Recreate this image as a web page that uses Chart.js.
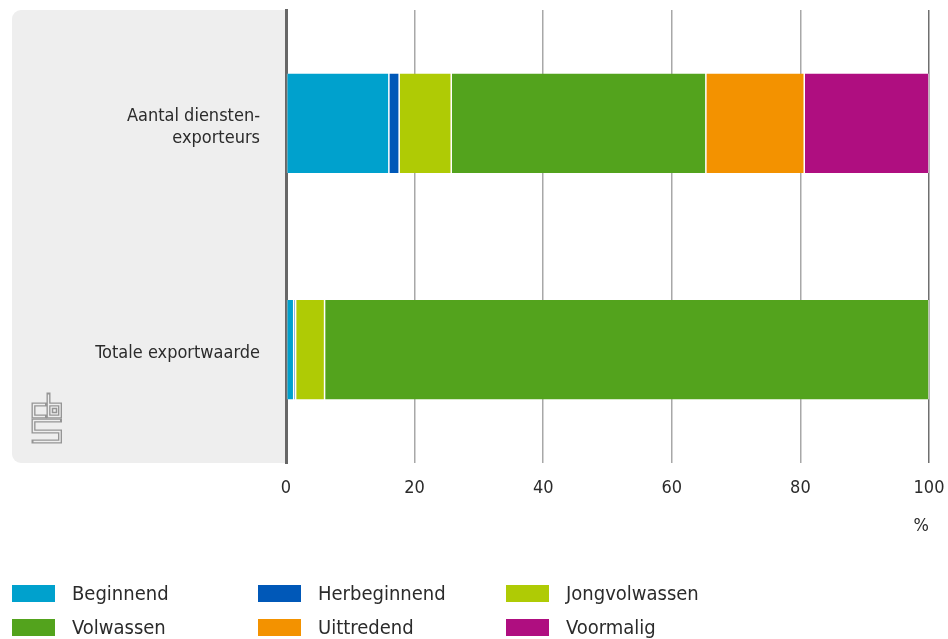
<!DOCTYPE html>
<html>
<head>
<meta charset="utf-8">
<title>Dienstenexporteurs naar fase</title>
<script src="https://cdn.jsdelivr.net/npm/chart.js@4.4.0/dist/chart.umd.min.js"></script>
<style>
  html, body { margin: 0; padding: 0; background: #fff; }
  #wrap { position: relative; width: 948px; height: 639px; }
</style>
</head>
<body>
<div id="wrap"><canvas id="exportChart" width="948" height="639"></canvas></div>
<script>
// categories (y axis) and x-axis ticks
const categories = [['Aantal diensten-', 'exporteurs'], 'Totale exportwaarde'];
const xTicks = [0, 20, 40, 60, 80, 100];

// share per phase, in %
const beginnend     = [16.0, 1.2];
const herbeginnend  = [1.6, 0.3];
const jongvolwassen = [8.1, 4.5];
const volwassen     = [39.6, 94.0];
const uittredend    = [15.3, 0];
const voormalig     = [19.4, 0];

const seriesNames  = ['Beginnend', 'Herbeginnend', 'Jongvolwassen', 'Volwassen', 'Uittredend', 'Voormalig'];
const seriesValues = [beginnend, herbeginnend, jongvolwassen, volwassen, uittredend, voormalig];
const seriesColors = ['#00a1cd', '#0058b8', '#afcb05', '#53a31d', '#f39200', '#af0e80'];

const FONT = "'DejaVu Sans Condensed', 'DejaVu Sans', sans-serif";
const TEXT = '#2b2b2b';

// no extra room around the scales, the plot area is fixed
const noPadding = s => { s.paddingTop = 0; s.paddingBottom = 0; s.paddingLeft = 0; s.paddingRight = 0; };

// grey panel behind the category labels + the cbs logo
const panelPlugin = {
  id: 'panel',
  beforeDraw(chart) {
    const { ctx, chartArea } = chart;
    const x = 12, y = chartArea.top, w = chartArea.left - x, h = chartArea.bottom - y, r = 9;
    ctx.save();
    ctx.fillStyle = '#eeeeee';
    ctx.beginPath();
    ctx.moveTo(x + w, y);
    ctx.lineTo(x + r, y);
    ctx.arcTo(x, y, x, y + r, r);
    ctx.lineTo(x, y + h - r);
    ctx.arcTo(x, y + h, x + r, y + h, r);
    ctx.lineTo(x + w, y + h);
    ctx.closePath();
    ctx.fill();

    // logo: c, b and S drawn as outlined strokes
    const paths = [
      [[45, 404.5], [33.5, 404.5], [33.5, 416.5], [45, 416.5]],
      [[48.5, 394.5], [48.5, 416.5], [60, 416.5], [60, 404.5], [48.5, 404.5]],
      [[60, 420.5], [33.5, 420.5], [33.5, 431.5], [60, 431.5], [60, 441.5], [33.5, 441.5]]
    ];
    const trace = () => {
      paths.forEach(p => {
        ctx.beginPath();
        ctx.moveTo(p[0][0], p[0][1]);
        p.slice(1).forEach(pt => ctx.lineTo(pt[0], pt[1]));
        ctx.stroke();
      });
    };
    ctx.lineJoin = 'miter';
    ctx.lineCap = 'square';
    ctx.strokeStyle = '#959595';
    ctx.lineWidth = 4;
    trace();
    ctx.strokeStyle = '#eeeeee';
    ctx.lineWidth = 1.3;
    ctx.lineCap = 'butt';
    trace();
    // small square inside the b
    ctx.strokeStyle = '#959595';
    ctx.lineWidth = 1.5;
    ctx.strokeRect(52.5, 408.5, 4, 4);
    ctx.restore();
  }
};

// legend in three columns, two rows
const legendPlugin = {
  id: 'gridLegend',
  afterDraw(chart) {
    const { ctx } = chart;
    const colX = [12, 258, 506];
    const rowY = [593.5, 627.5];
    ctx.save();
    ctx.font = '20px ' + FONT;
    ctx.textBaseline = 'middle';
    chart.data.datasets.forEach((ds, i) => {
      const x = colX[i % 3], y = rowY[Math.floor(i / 3)];
      ctx.fillStyle = ds.backgroundColor;
      ctx.fillRect(x, y - 8.5, 43, 17);
      ctx.fillStyle = TEXT;
      ctx.fillText(ds.label, x + 60, y + 1);
    });
    ctx.restore();
  }
};

new Chart(document.getElementById('exportChart'), {
  type: 'bar',
  data: {
    labels: categories,
    datasets: seriesNames.map((name, i) => ({
      label: name,
      data: seriesValues[i],
      backgroundColor: seriesColors[i],
      borderColor: '#ffffff',
      borderWidth: { left: 0.75, right: 0.75, top: 0, bottom: 0 },
      borderSkipped: false,
      barPercentage: 0.44,
      categoryPercentage: 1
    }))
  },
  options: {
    indexAxis: 'y',
    responsive: false,
    animation: false,
    devicePixelRatio: 1,
    layout: { padding: { left: 0, right: 19, top: 10, bottom: 102 } },
    plugins: {
      legend: { display: false },
      tooltip: { enabled: false }
    },
    scales: {
      x: {
        stacked: true,
        min: 0,
        max: 100,
        afterBuildTicks: s => { s.ticks = xTicks.map(v => ({ value: v })); },
        afterFit: s => { s.height = 74; noPadding(s); },
        grid: {
          drawTicks: false,
          lineWidth: 1.5,
          color: c => c.tick && c.tick.value === 100 ? '#6f6f6f' : (c.tick && c.tick.value === 0 ? 'rgba(0,0,0,0)' : '#a8a8a8')
        },
        border: { display: false },
        ticks: {
          padding: 15,
          color: TEXT,
          font: { family: FONT, size: 18 }
        },
        title: {
          display: true,
          text: '%',
          align: 'end',
          color: TEXT,
          font: { family: FONT, size: 18 },
          padding: 0
        }
      },
      y: {
        stacked: true,
        z: 1,
        afterFit: s => { s.width = 286; noPadding(s); },
        grid: { display: false, drawTicks: false },
        border: { display: true, color: '#676767', width: 3 },
        ticks: {
          padding: 26,
          labelOffset: 4,
          color: TEXT,
          font: { family: FONT, size: 18, lineHeight: 1.22 }
        }
      }
    }
  },
  plugins: [panelPlugin, legendPlugin]
});
</script>
</body>
</html>
